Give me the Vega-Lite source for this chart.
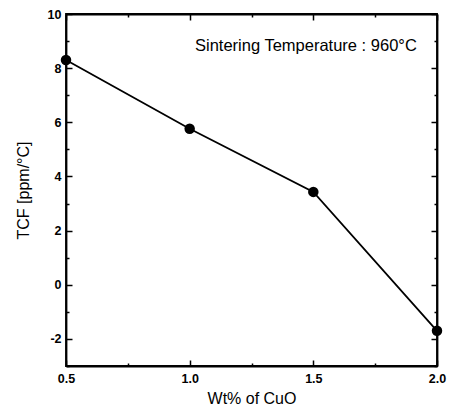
{
  "$schema": "https://vega.github.io/schema/vega-lite/v6.json",
  "autosize": {"type": "none"},
  "padding": {"left": 66, "top": 14, "right": 15, "bottom": 46},
  "width": 371,
  "height": 352,
  "background": "white",
  "config": {
    "font": "Liberation Sans",
    "view": {"stroke": "black", "strokeWidth": 1.8},
    "axis": {
      "domainColor": "black",
      "domainWidth": 1.8,
      "tickColor": "black",
      "tickWidth": 1.5,
      "labelColor": "black",
      "titleColor": "black",
      "labelFont": "Liberation Sans",
      "titleFont": "Liberation Sans",
      "labelFontSize": 12.5,
      "labelFontWeight": "bold",
      "titleFontSize": 16,
      "titleFontWeight": "normal",
      "grid": false
    }
  },
  "data": {
    "values": [
      {"cuo": 0.5, "tcf": 8.3},
      {"cuo": 1.0, "tcf": 5.76},
      {"cuo": 1.5, "tcf": 3.43},
      {"cuo": 2.0, "tcf": -1.7}
    ]
  },
  "resolve": {"axis": {"x": "independent", "y": "independent"}},
  "layer": [
    {
      "mark": {"type": "line", "color": "black", "strokeWidth": 1.8},
      "encoding": {
        "x": {
          "field": "cuo", "type": "quantitative",
          "scale": {"domain": [0.5, 2.0], "nice": false, "zero": false},
          "axis": {
            "orient": "bottom",
            "title": "Wt% of CuO",
            "titleColor": "#000000",
            "values": [0.5, 0.75, 1.0, 1.25, 1.5, 1.75, 2.0],
            "labelExpr": "(datum.value * 2) % 1 === 0 ? format(datum.value, '.1f') : ''",
            "tickSize": {"condition": {"test": "(datum.value * 2) % 1 === 0", "value": -6}, "value": -3},
            "labelPadding": 12,
            "titlePadding": 6,
            "labelFlush": false
          }
        },
        "y": {
          "field": "tcf", "type": "quantitative",
          "scale": {"domain": [-3, 10], "nice": false, "zero": false},
          "axis": {
            "orient": "left",
            "title": "TCF [ppm/°C]",
            "titleColor": "#000000",
            "values": [-3, -2, -1, 0, 1, 2, 3, 4, 5, 6, 7, 8, 9, 10],
            "labelExpr": "datum.value % 2 === 0 ? datum.value : ''",
            "tickSize": {"condition": {"test": "datum.value % 2 === 0", "value": -6}, "value": -3},
            "labelPadding": 11,
            "titlePadding": 16,
            "labelFlush": false
          }
        }
      }
    },
    {
      "mark": {"type": "point", "filled": true, "color": "black", "size": 110, "opacity": 1},
      "encoding": {
        "x": {
          "field": "cuo", "type": "quantitative",
          "axis": {
            "orient": "top",
            "title": null,
            "labels": false,
            "values": [0.5, 0.75, 1.0, 1.25, 1.5, 1.75, 2.0],
            "tickSize": {"condition": {"test": "(datum.value * 2) % 1 === 0", "value": -6}, "value": -3}
          }
        },
        "y": {
          "field": "tcf", "type": "quantitative",
          "axis": {
            "orient": "right",
            "title": null,
            "labels": false,
            "values": [-3, -2, -1, 0, 1, 2, 3, 4, 5, 6, 7, 8, 9, 10],
            "tickSize": {"condition": {"test": "datum.value % 2 === 0", "value": -6}, "value": -3}
          }
        }
      }
    },
    {
      "data": {"values": [{"cuo": 1.47, "tcf": 8.82, "label": "Sintering Temperature : 960°C"}]},
      "mark": {"type": "text", "font": "Liberation Sans", "fontSize": 16.5, "color": "black", "align": "center", "baseline": "middle"},
      "encoding": {
        "x": {"field": "cuo", "type": "quantitative", "axis": null},
        "y": {"field": "tcf", "type": "quantitative", "axis": null},
        "text": {"field": "label"}
      }
    }
  ]
}
